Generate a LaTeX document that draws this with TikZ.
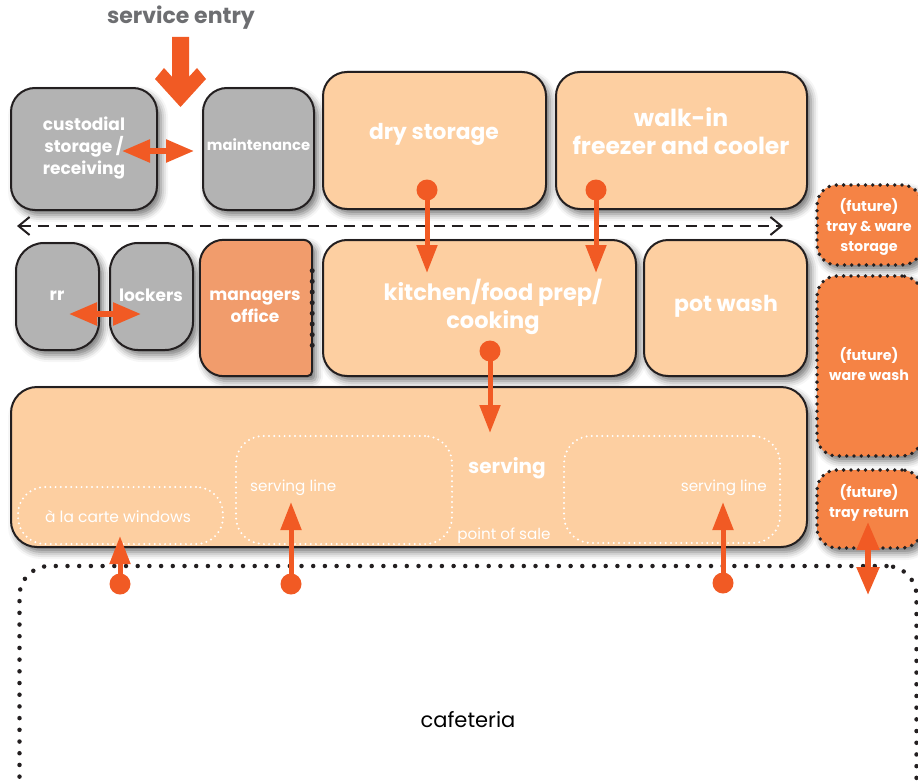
\documentclass[tikz,border=0pt]{standalone}
\usepackage{fontspec}
\setmainfont{Poppins}
\usetikzlibrary{arrows.meta,shadows.blur}
\definecolor{edge}{HTML}{231F20}
\definecolor{grayfill}{HTML}{B3B3B3}
\definecolor{peach}{HTML}{FDCFA1}
\definecolor{officefill}{HTML}{F19C6C}
\definecolor{futurefill}{HTML}{F58345}
\definecolor{flowor}{HTML}{F15A24}
\definecolor{titlegray}{HTML}{6D6E71}
\newcommand\fsz[2]{\fontsize{#1}{#2}\selectfont}
\begin{document}
\begin{tikzpicture}[x=1pt,y=-1pt,
  shad/.style={blur shadow={shadow xshift=4pt,shadow yshift=-5pt,shadow blur radius=7pt,shadow opacity=55}},
  box/.style={draw=edge,line width=2pt,rounded corners=24pt,shad,inner sep=0pt},
  graybox/.style={box,fill=grayfill},
  peachbox/.style={box,fill=peach},
  futurebox/.style={draw=edge,line width=3.8pt,dash pattern=on 0pt off 7.3pt,line cap=round,
     rounded corners=20pt,fill=futurefill,shad,inner sep=0pt},
  wdotbox/.style={draw=white,line width=2.2pt,dash pattern=on 0pt off 5.2pt,line cap=round,
     rounded corners=27pt,inner sep=0pt},
  cafbox/.style={draw=edge,line width=4.5pt,dash pattern=on 0pt off 11.7pt,line cap=round,
     rounded corners=30pt,inner sep=0pt},
  wlbl/.style={text=white,align=center,inner sep=0pt},
  bl/.style={wlbl,font=\bfseries\fsz{17}{22}},
  big/.style={wlbl,font=\bfseries\fsz{22.5}{28}},
  fut/.style={wlbl,font=\bfseries\fsz{14.3}{20}},
  thin/.style={wlbl,font=\fsz{15.2}{16}},
  odot/.style={circle,fill=flowor,minimum size=21pt,inner sep=0pt},
  flow/.style={draw=flowor,line width=5pt,-{Triangle[length=28pt,width=20pt]}},
  dflow/.style={draw=flowor,line width=5.5pt,{Triangle[length=28pt,width=22pt]}-{Triangle[length=28pt,width=22pt]}},
  dashflow/.style={draw=edge,line width=2pt,dash pattern=on 11pt off 7pt,
     {Straight Barb[length=11pt,width=18pt]}-{Straight Barb[length=11pt,width=18pt]}}
]
\useasboundingbox (0,0) rectangle (918,784);
\clip (0,0) rectangle (918,784);

% cafeteria
\node[cafbox,minimum width=897pt,minimum height=308pt,font=\fsz{21}{24}] (caf) at (468,720) {cafeteria};

% top row
\node[graybox,minimum width=146pt,minimum height=122pt] (cust) at (84,149) {};
\node[graybox,minimum width=111pt,minimum height=122pt] (maint) at (258.5,149) {};
\node[peachbox,minimum width=223pt,minimum height=137pt] (dry) at (434.5,140.5) {};
\node[peachbox,minimum width=251pt,minimum height=137pt] (walk) at (681.5,140.5) {};

% middle row
\node[graybox,rounded corners=28pt,minimum width=83pt,minimum height=107pt] (rr) at (57.5,296.5) {};
\node[graybox,rounded corners=28pt,minimum width=83pt,minimum height=107pt] (lock) at (151.5,296.5) {};
\node[minimum width=112pt,minimum height=136pt,inner sep=0pt] (office) at (256,308) {};
\draw[draw=edge,line width=2pt,fill=officefill,shad]
  ([xshift=50pt]office.north west) [rounded corners=9pt] -- (office.north east)
  [rounded corners=5pt] -- (office.south east)
  [rounded corners=24pt] -- (office.south west) -- (office.north west) -- cycle;
\draw[draw=edge,line width=5pt,dash pattern=on 0pt off 10.66pt,line cap=round]
  ([yshift=37.3pt]office.east) -- ([yshift=-37.4pt]office.east);
\node[peachbox,minimum width=313pt,minimum height=136pt] (kit) at (479.5,308) {};
\node[peachbox,minimum width=163pt,minimum height=136pt] (pot) at (725.5,308) {};

% serving
\node[peachbox,rounded corners=26pt,minimum width=796pt,minimum height=160pt] (serv) at (409,467) {};
\node[wdotbox,minimum width=205pt,minimum height=57pt] (alc) at (120.5,515.5) {};
\node[wdotbox,minimum width=216pt,minimum height=108pt] (sl1) at (344,490) {};
\node[wdotbox,minimum width=216pt,minimum height=107pt] (sl2) at (672,489.5) {};

% future boxes
\node[futurebox,minimum width=105pt,minimum height=80pt] (fut1) at (869.5,225) {};
\node[futurebox,minimum width=105pt,minimum height=180pt] (fut2) at (869.5,366) {};
\node[futurebox,minimum width=105pt,minimum height=78pt] (fut3) at (869.5,509) {};

% service entry
\node[text=titlegray,font=\bfseries\fsz{22}{24},inner sep=0pt] (svc) at (181,18) {service entry};
\fill[flowor] (172,37) -- (189,37) -- (189,76.8) -- (197,68) -- (206,79) -- (180.5,107)
  -- (155,79) -- (164,68) -- (172,76.8) -- cycle;

% dashed corridor
\coordinate (dashL) at (17,226);
\coordinate (dashR) at (783,226);
\draw[dashflow] (dashL) -- (dashR);

% double arrows
\coordinate (cmL) at (122,151);
\coordinate (cmR) at (194,151);
\draw[dflow] (cmL) -- (cmR);
\coordinate (rlL) at (69,314);
\coordinate (rlR) at (141,314);
\draw[dflow] (rlL) -- (rlR);
\coordinate (trT) at (868,522);
\coordinate (trB) at (868,595);
\draw[dflow] (trT) -- (trB);

% flows
\node[odot] (dryD) at (427,190) {};
\coordinate (dryTip) at (427,273);
\draw[flow] (dryD.center) -- (dryTip);
\node[odot] (walkD) at (596,190) {};
\coordinate (walkTip) at (596,273);
\draw[flow] (walkD.center) -- (walkTip);
\node[odot] (kitD) at (490,351) {};
\coordinate (kitTip) at (490,433);
\draw[flow] (kitD.center) -- (kitTip);
\node[odot] (alcD) at (120,584) {};
\coordinate (alcTip) at (120,536);
\draw[flow] (alcD.center) -- (alcTip);
\node[odot] (sl1D) at (291,584) {};
\coordinate (sl1Tip) at (291,502);
\draw[flow] (sl1D.center) -- (sl1Tip);
\node[odot] (sl2D) at (723,583) {};
\coordinate (sl2Tip) at (723,502);
\draw[flow] (sl2D.center) -- (sl2Tip);

% labels
\node[bl] (custT) at (84,148) {custodial\\storage /\\receiving};
\node[wlbl,font=\bfseries\fsz{14.8}{16}] (maintT) at (258.5,145) {maintenance};
\node[big,font=\bfseries\fsz{21.8}{28}] (dryT) at (434,134) {dry storage};
\node[big,font=\bfseries\fsz{23.5}{28}] (walkT) at (681,131) {walk-in\\freezer and cooler};
\node[bl] (rrT) at (57,296) {rr};
\node[bl] (lockT) at (151,295) {lockers};
\node[bl] (officeT) at (255,307) {managers\\office};
\node[big] (kitT) at (493,307) {kitchen/food prep/\\cooking};
\node[big,font=\bfseries\fsz{22}{28}] (potT) at (726,306) {pot wash};
\node[wlbl,font=\bfseries\fsz{20}{24}] (servT) at (507,468) {serving};
\node[thin,font=\fsz{15.5}{16}] (alcT) at (118,517) {à la carte windows};
\node[thin,anchor=west] (sl1T) at (250,488) {serving line};
\node[thin,anchor=east] (sl2T) at (767,488) {serving line};
\node[thin] (posT) at (504,536) {point of sale};
\node[fut] (fut1T) at (869,227) {(future)\\tray \& ware\\storage};
\node[fut] (fut2T) at (869,364.5) {(future)\\ware wash};
\node[fut] (fut3T) at (869,502.5) {(future)\\tray return};
\end{tikzpicture}
\end{document}
